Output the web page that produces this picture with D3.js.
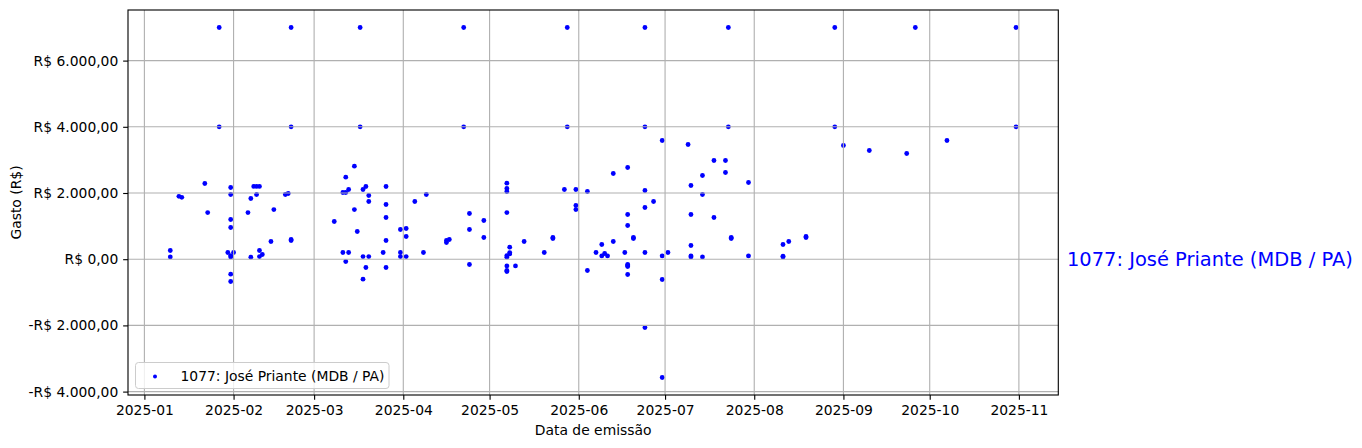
<!DOCTYPE html>
<html>
<head>
<meta charset="utf-8">
<script src="https://cdn.jsdelivr.net/npm/d3@7"></script>
<style>
  html, body { margin: 0; padding: 0; background: #fff; }
  text { font-family: "DejaVu Sans", sans-serif; }
</style>
</head>
<body>
<svg id="chart" width="1362" height="448"></svg>
<script>
// ---- data ----
const seriesName = "1077: José Priante (MDB / PA)";
const dates = [
  "2025-01-10","2025-01-10","2025-01-13","2025-01-14","2025-01-22","2025-01-23","2025-01-27","2025-01-27","2025-01-30",
  "2025-01-31","2025-01-31","2025-01-31","2025-01-31","2025-01-31","2025-01-31","2025-01-31","2025-01-31",
  "2025-02-01","2025-02-06","2025-02-07","2025-02-07","2025-02-08","2025-02-09","2025-02-09",
  "2025-02-10","2025-02-10","2025-02-10","2025-02-11","2025-02-14","2025-02-15","2025-02-19","2025-02-20",
  "2025-02-21","2025-02-21","2025-02-21","2025-02-21",
  "2025-03-08","2025-03-11","2025-03-11","2025-03-12","2025-03-12","2025-03-12","2025-03-13","2025-03-13",
  "2025-03-15","2025-03-15","2025-03-16","2025-03-17","2025-03-17","2025-03-18","2025-03-18","2025-03-18",
  "2025-03-19","2025-03-19","2025-03-20","2025-03-20","2025-03-20","2025-03-25",
  "2025-03-26","2025-03-26","2025-03-26","2025-03-26","2025-03-26","2025-03-31","2025-03-31","2025-03-31",
  "2025-04-02","2025-04-02","2025-04-02","2025-04-05","2025-04-08","2025-04-09","2025-04-16","2025-04-16","2025-04-17",
  "2025-04-22","2025-04-22","2025-04-24","2025-04-24","2025-04-24","2025-04-29","2025-04-29",
  "2025-05-07","2025-05-07","2025-05-07","2025-05-07","2025-05-07","2025-05-07","2025-05-07","2025-05-07","2025-05-07",
  "2025-05-08","2025-05-08","2025-05-08","2025-05-10","2025-05-13","2025-05-20","2025-05-23","2025-05-23","2025-05-27",
  "2025-05-28","2025-05-28","2025-05-31","2025-05-31","2025-05-31","2025-06-04","2025-06-04","2025-06-07",
  "2025-06-09","2025-06-09","2025-06-10","2025-06-11","2025-06-13","2025-06-13","2025-06-17",
  "2025-06-18","2025-06-18","2025-06-18","2025-06-18","2025-06-18","2025-06-18","2025-06-18",
  "2025-06-20","2025-06-20","2025-06-24","2025-06-24","2025-06-24","2025-06-24","2025-06-24","2025-06-24",
  "2025-06-27","2025-06-30","2025-06-30","2025-06-30","2025-06-30","2025-07-02","2025-07-09",
  "2025-07-10","2025-07-10","2025-07-10","2025-07-10","2025-07-10","2025-07-14","2025-07-14","2025-07-14",
  "2025-07-18","2025-07-18","2025-07-22","2025-07-22","2025-07-23","2025-07-23","2025-07-24","2025-07-24",
  "2025-07-30","2025-07-30","2025-08-11","2025-08-11","2025-08-11","2025-08-13","2025-08-19","2025-08-19",
  "2025-08-29","2025-08-29","2025-09-01","2025-09-10","2025-09-23","2025-09-26","2025-10-07","2025-10-31","2025-10-31"
];
const values = [
  263,70,1900,1870,2287,1410,7000,4000,202,
  2166,1955,1200,958,110,70,-453,-674,
  202,1410,1834,60,2200,2200,1955,
  2200,263,80,142,535,1500,1955,1985,
  7000,4000,595,565,
  1139,2015,202,2015,-70,2477,202,2105,
  2810,1500,837,7000,4000,2105,80,-604,
  2196,-250,1924,1743,80,202,
  2196,1652,1260,565,-250,202,897,80,
  927,686,80,1743,202,1955,505,565,595,
  7000,4000,1380,897,-160,1169,655,
  2136,-372,2296,2045,1410,-341,-202,110,60,
  362,200,160,-202,535,202,655,625,2105,
  7000,4000,2105,1622,1500,2045,-341,202,
  444,100,172,100,2589,535,202,
  2770,1350,1018,-160,-190,-220,-462,
  655,625,7000,4000,202,2075,1562,-2063,
  1743,3586,100,-613,-3574,202,3465,
  2227,1350,414,100,70,2529,1955,70,
  2982,1260,2982,2620,7000,4000,655,625,
  2317,100,444,90,70,535,686,655,
  7000,4000,3435,3284,3193,7000,3586,7000,4000
];
const yTickValues = [-4000, -2000, 0, 2000, 4000, 6000];
const xTickFormat = "%Y-%m";
const xLabel = "Data de emissão";
const yLabel = "Gasto (R$)";

// ---- layout ----
const W = 1362, H = 448;
const L = 128, R = 1058.3, T = 10, B = 395;
const px = 100 / 72; // pt -> px

const parse = d3.utcParse("%Y-%m-%d");
const points = dates.map((d, i) => ({ date: parse(d), value: values[i] }));

const xExt = d3.extent(points, d => d.date.getTime());
const xPad = (xExt[1] - xExt[0]) * 0.05;
const yExt = d3.extent(points, d => d.value);
const yPad = (yExt[1] - yExt[0]) * 0.05;

const x = d3.scaleUtc()
  .domain([new Date(xExt[0] - xPad), new Date(xExt[1] + xPad)])
  .range([L, R]);
const y = d3.scaleLinear()
  .domain([yExt[0] - yPad, yExt[1] + yPad])
  .range([B, T]);

const svg = d3.select("#chart");
const fs = 10 * px;

const brl = v => {
  const s = d3.format(",.2f")(Math.abs(v)).replace(/,/g, "X").replace(/\./g, ",").replace(/X/g, ".");
  return (v < 0 ? "-" : "") + "R$ " + s;
};

const xTicks = d3.utcMonth.every(1).range(x.domain()[0], x.domain()[1]);

// points (drawn beneath the grid, as in the reference)
svg.append("g").selectAll("circle").data(points).join("circle")
  .attr("cx", d => x(d.date)).attr("cy", d => y(d.value))
  .attr("r", 2.4).attr("fill", "#0000ff");

// grid
const grid = svg.append("g").attr("stroke", "#b0b0b0").attr("stroke-width", 0.8 * px);
grid.selectAll("line.gx").data(xTicks).join("line").attr("class", "gx")
  .attr("x1", d => x(d)).attr("x2", d => x(d)).attr("y1", T).attr("y2", B);
grid.selectAll("line.gy").data(yTickValues).join("line").attr("class", "gy")
  .attr("x1", L).attr("x2", R).attr("y1", d => y(d)).attr("y2", d => y(d));

// axes
const xAxis = d3.axisBottom(x).tickValues(xTicks).tickFormat(d3.utcFormat(xTickFormat))
  .tickSizeInner(3.5 * px).tickSizeOuter(0).tickPadding(3.5 * px);
const yAxis = d3.axisLeft(y).tickValues(yTickValues).tickFormat(brl)
  .tickSizeInner(3.5 * px).tickSizeOuter(0).tickPadding(3.5 * px);

const gx = svg.append("g").attr("transform", `translate(0,${B})`).call(xAxis);
const gy = svg.append("g").attr("transform", `translate(${L},0)`).call(yAxis);
[gx, gy].forEach(g => {
  g.select(".domain").remove();
  g.selectAll(".tick line").attr("stroke", "#000").attr("stroke-width", 0.8 * px);
  g.selectAll(".tick text").attr("fill", "#000").style("font-size", fs + "px")
    .style("font-family", "'DejaVu Sans', sans-serif");
});

// spines
svg.append("rect").attr("x", L).attr("y", T).attr("width", R - L).attr("height", B - T)
  .attr("fill", "none").attr("stroke", "#000").attr("stroke-width", 0.8 * px);

// axis labels
svg.append("text").attr("x", (L + R) / 2).attr("y", 435).attr("text-anchor", "middle")
  .style("font-size", fs + "px").text(xLabel);
svg.append("text").attr("transform", `translate(20.5,${(T + B) / 2}) rotate(-90)`)
  .attr("text-anchor", "middle").style("font-size", fs + "px").text(yLabel);

// legend
const lg = svg.append("g");
lg.append("rect").attr("x", 135.5).attr("y", 362.5).attr("width", 253.5).attr("height", 26)
  .attr("rx", 3).attr("fill", "#fff").attr("fill-opacity", 0.8)
  .attr("stroke", "#cccccc").attr("stroke-width", 1);
lg.append("circle").attr("cx", 155).attr("cy", 376.5).attr("r", 2).attr("fill", "#0000ff");
lg.append("text").attr("x", 180.5).attr("y", 381.3).style("font-size", fs + "px").text(seriesName);

// right-side annotation
svg.append("text").attr("x", 1067).attr("y", y(0)).attr("dy", "0.35em")
  .attr("fill", "#0000ff").style("font-size", (14 * px) + "px").text(seriesName);
</script>
</body>
</html>
